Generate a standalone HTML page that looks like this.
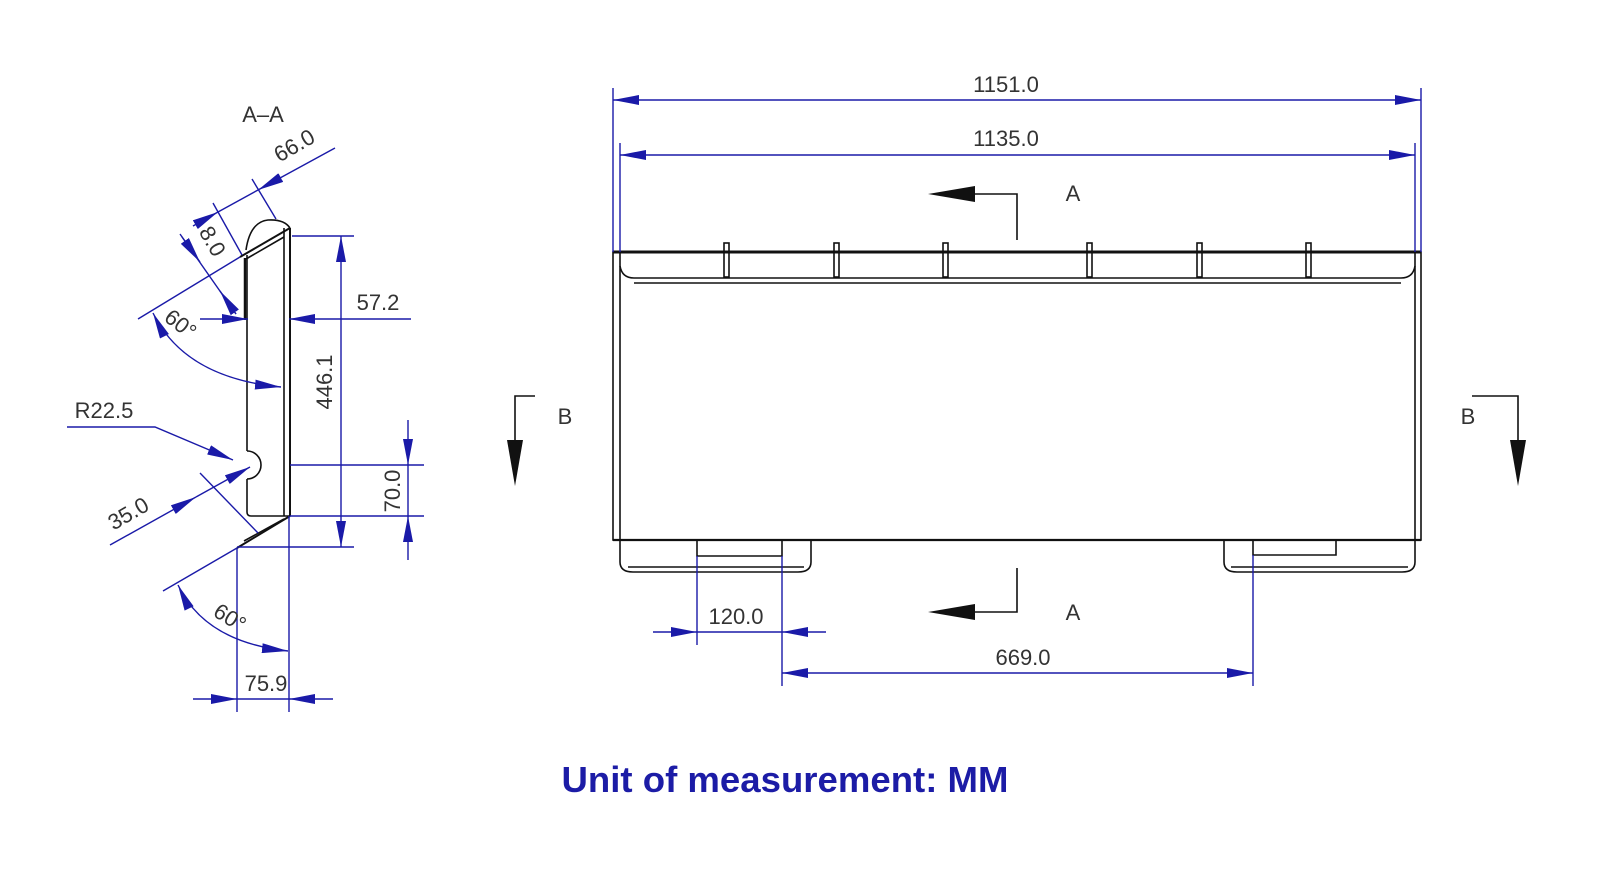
<!DOCTYPE html>
<html><head><meta charset="utf-8"><style>
html,body{margin:0;padding:0;background:#fff}
svg{display:block}
.t{font-family:"Liberation Sans Narrow","Liberation Sans",sans-serif;font-size:22px;fill:#333}
.b{stroke:#1a1aa8;stroke-width:1.4;fill:none}
.k{stroke:#111;stroke-width:1.6;fill:none}
</style></head><body>
<svg width="1600" height="879" viewBox="0 0 1600 879">
<defs>
<marker id="a" viewBox="0 0 26 10" refX="26" refY="5" markerWidth="26" markerHeight="10" markerUnits="userSpaceOnUse" orient="auto-start-reverse">
<path d="M0,0 L26,5 L0,10 z" fill="#1a1aa8"/></marker>
</defs>

<text class="t" x="263" y="122" text-anchor="middle">A–A</text>
<g class="k">
<line x1="284" y1="228" x2="284" y2="516"/>
<line x1="290" y1="228" x2="290" y2="516" stroke-width="2"/>
<line x1="240" y1="257" x2="290" y2="228" stroke-width="2"/>
<line x1="246" y1="259" x2="284" y2="237"/>
<path d="M246,250 Q250,222 268,220 Q284,219 290,228"/>
<line x1="247" y1="255" x2="247" y2="451"/>
<line x1="245" y1="258" x2="245" y2="320" stroke-width="2.5"/>
<path d="M247,451 A14,14 0 1 1 247,479"/>
<path d="M247,479 V512 Q247,516 251,516 H290"/>
<line x1="237" y1="548" x2="290" y2="516" stroke-width="2"/>
<line x1="244" y1="541" x2="284" y2="519"/>
</g>
<g class="b">
<line x1="193" y1="226" x2="218" y2="212" marker-end="url(#a)"/>
<line x1="218" y1="212" x2="258" y2="190"/>
<line x1="335" y1="148" x2="258" y2="190" marker-end="url(#a)"/>
<line x1="213" y1="203" x2="242" y2="255"/>
<line x1="252" y1="179" x2="276" y2="219"/>
<line x1="180" y1="234" x2="236" y2="314"/>
<line x1="182" y1="237" x2="200" y2="262" marker-end="url(#a)"/>
<line x1="236" y1="314" x2="220" y2="291" marker-end="url(#a)"/>
<line x1="138" y1="319" x2="240" y2="257"/>
<path d="M153,313 Q185,378 281,387" marker-start="url(#a)" marker-end="url(#a)"/>
<line x1="200" y1="319" x2="248" y2="319" marker-end="url(#a)"/>
<line x1="411" y1="319" x2="289" y2="319" marker-end="url(#a)"/>
<line x1="292" y1="236" x2="354" y2="236"/>
<line x1="237" y1="547" x2="354" y2="547"/>
<line x1="341" y1="236" x2="341" y2="547" marker-start="url(#a)" marker-end="url(#a)"/>
<line x1="290" y1="465" x2="424" y2="465"/>
<line x1="290" y1="516" x2="424" y2="516"/>
<line x1="408" y1="420" x2="408" y2="465" marker-end="url(#a)"/>
<line x1="408" y1="560" x2="408" y2="516" marker-end="url(#a)"/>
<line x1="408" y1="465" x2="408" y2="516"/>
<path d="M67,427 H155 L233,460" marker-end="url(#a)"/>
<line x1="110" y1="545" x2="196" y2="497" marker-end="url(#a)"/>
<line x1="196" y1="497" x2="250" y2="467" marker-end="url(#a)"/>
<line x1="200" y1="473" x2="258" y2="533"/>
<line x1="163" y1="591" x2="237" y2="548"/>
<path d="M178,585 Q205,642 288,651" marker-start="url(#a)" marker-end="url(#a)"/>
<line x1="237" y1="548" x2="237" y2="712"/>
<line x1="289" y1="516" x2="289" y2="712"/>
<line x1="193" y1="699" x2="237" y2="699" marker-end="url(#a)"/>
<line x1="333" y1="699" x2="289" y2="699" marker-end="url(#a)"/>
<line x1="237" y1="699" x2="289" y2="699"/>
</g>
<text class="t" transform="translate(298,152) rotate(-30)" text-anchor="middle">66.0</text>
<text class="t" transform="translate(206,245) rotate(60)" text-anchor="middle">8.0</text>
<text class="t" transform="translate(176,330) rotate(38)" text-anchor="middle">60°</text>
<text class="t" x="378" y="310" text-anchor="middle">57.2</text>
<text class="t" transform="translate(332,382) rotate(-90)" text-anchor="middle">446.1</text>
<text class="t" x="104" y="418" text-anchor="middle">R22.5</text>
<text class="t" transform="translate(132,520) rotate(-30)" text-anchor="middle">35.0</text>
<text class="t" transform="translate(400,491) rotate(-90)" text-anchor="middle">70.0</text>
<text class="t" transform="translate(226,624) rotate(32)" text-anchor="middle">60°</text>
<text class="t" x="266" y="691" text-anchor="middle">75.9</text>

<g class="k">
<rect x="613" y="252" width="808" height="288"/>
<line x1="613" y1="252" x2="1421" y2="252" stroke-width="3"/>
<line x1="613" y1="540" x2="1421" y2="540" stroke-width="2.2"/>
<line x1="620" y1="252" x2="620" y2="540"/>
<line x1="1415" y1="252" x2="1415" y2="540"/>
<path d="M620,266 Q622,278 634,278 H1401 Q1413,278 1415,266"/>
<line x1="634" y1="283" x2="1401" y2="283"/>
<rect x="724" y="243" width="5" height="34"/>
<rect x="834" y="243" width="5" height="34"/>
<rect x="943" y="243" width="5" height="34"/>
<rect x="1087" y="243" width="5" height="34"/>
<rect x="1197" y="243" width="5" height="34"/>
<rect x="1306" y="243" width="5" height="34"/>
<path d="M620,540 V562 Q620,572 633,572 H798 Q811,572 811,562 V540"/>
<line x1="628" y1="567" x2="804" y2="567"/>
<path d="M697,540 V556 H782 V540"/>
<path d="M1224,540 V562 Q1224,572 1237,572 H1402 Q1415,572 1415,562 V540"/>
<line x1="1231" y1="567" x2="1408" y2="567"/>
<path d="M1253,540 V555 H1336 V540"/>
<polyline points="1017,240 1017,194 960,194"/>
<polyline points="1017,568 1017,612 960,612"/>
<polyline points="535,396 515,396 515,440"/>
<polyline points="1472,396 1518,396 1518,440"/>
</g>
<g fill="#111">
<polygon points="928,194 975,186 975,202"/>
<polygon points="928,612 975,604 975,620"/>
<polygon points="515,486 507,440 523,440"/>
<polygon points="1518,486 1510,440 1526,440"/>
</g>
<text class="t" x="1073" y="201" text-anchor="middle">A</text>
<text class="t" x="1073" y="620" text-anchor="middle">A</text>
<text class="t" x="565" y="424" text-anchor="middle">B</text>
<text class="t" x="1468" y="424" text-anchor="middle">B</text>

<g class="b">
<line x1="613" y1="88" x2="613" y2="252"/>
<line x1="1421" y1="88" x2="1421" y2="252"/>
<line x1="620" y1="143" x2="620" y2="252"/>
<line x1="1415" y1="143" x2="1415" y2="252"/>
<line x1="613" y1="100" x2="1421" y2="100" marker-start="url(#a)" marker-end="url(#a)"/>
<line x1="620" y1="155" x2="1415" y2="155" marker-start="url(#a)" marker-end="url(#a)"/>
<line x1="697" y1="556" x2="697" y2="645"/>
<line x1="782" y1="556" x2="782" y2="686"/>
<line x1="1253" y1="555" x2="1253" y2="686"/>
<line x1="653" y1="632" x2="697" y2="632" marker-end="url(#a)"/>
<line x1="826" y1="632" x2="782" y2="632" marker-end="url(#a)"/>
<line x1="697" y1="632" x2="782" y2="632"/>
<line x1="782" y1="673" x2="1253" y2="673" marker-start="url(#a)" marker-end="url(#a)"/>
</g>
<text class="t" x="1006" y="92" text-anchor="middle">1151.0</text>
<text class="t" x="1006" y="146" text-anchor="middle">1135.0</text>
<text class="t" x="736" y="624" text-anchor="middle">120.0</text>
<text class="t" x="1023" y="665" text-anchor="middle">669.0</text>

<text x="785" y="792" text-anchor="middle" font-family="Liberation Sans, sans-serif" font-weight="bold" font-size="36" textLength="447" lengthAdjust="spacingAndGlyphs" fill="#1c1ca6">Unit of measurement: MM</text>
</svg>
</body></html>
